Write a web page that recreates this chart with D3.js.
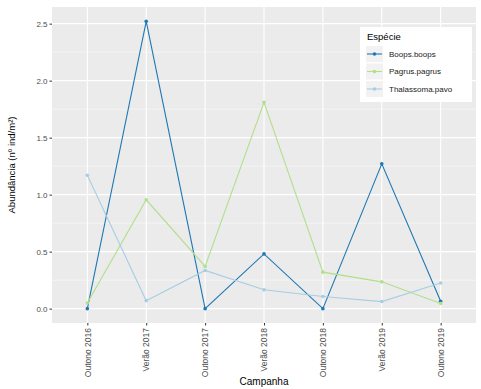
<!DOCTYPE html>
<html><head><meta charset="utf-8">
<script src="https://cdn.jsdelivr.net/npm/d3@7"></script>
<style>body{margin:0;background:#fff}svg{display:block;font-family:"Liberation Sans",Arial,sans-serif}</style>
</head><body><svg id="c" width="481" height="389"></svg>
<script>
const categories = ["Outono 2016","Verão 2017","Outono 2017","Verão 2018","Outono 2018","Verão 2019","Outono 2019"];
const boops = [0, 2.52, 0, 0.48, 0, 1.27, 0.065];
const pagrus = [0.05, 0.955, 0.37, 1.81, 0.32, 0.235, 0.045];
const thalassoma = [1.17, 0.07, 0.335, 0.165, 0.107, 0.062, 0.225];
const seriesNames = ["Boops.boops","Pagrus.pagrus","Thalassoma.pavo"];
const seriesColors = ["#1f78b4","#b2df8a","#a6cee3"];
const yTicks = [0, 0.5, 1.0, 1.5, 2.0, 2.5];

const series = [boops, pagrus, thalassoma].map((v,i)=>({name:seriesNames[i], color:seriesColors[i], values:v}));
const svg = d3.select("#c");
const L=52, R=476, T=7, B=323;
const x = d3.scalePoint().domain(categories).range([L,R]).padding(0.6);
const maxV = d3.max(series.flatMap(s=>s.values));
const pad = maxV*0.05;
const y = d3.scaleLinear().domain([-pad, maxV+pad]).range([B,T]);

svg.append("rect").attr("x",L).attr("y",T).attr("width",R-L).attr("height",B-T).attr("fill","#ebebeb");
for(let i=0;i<yTicks.length-1;i++){
  const m=(yTicks[i]+yTicks[i+1])/2;
  svg.append("line").attr("x1",L).attr("x2",R).attr("y1",y(m)).attr("y2",y(m)).attr("stroke","#fff").attr("stroke-width",0.5);
}
svg.selectAll(".gy").data(yTicks).enter().append("line").attr("x1",L).attr("x2",R)
  .attr("y1",d=>y(d)).attr("y2",d=>y(d)).attr("stroke","#fff").attr("stroke-width",1.1);
svg.selectAll(".gx").data(categories).enter().append("line").attr("y1",T).attr("y2",B)
  .attr("x1",d=>x(d)).attr("x2",d=>x(d)).attr("stroke","#fff").attr("stroke-width",1.1);

const ya = svg.append("g").attr("transform",`translate(${L},0)`)
  .call(d3.axisLeft(y).tickValues(yTicks).tickFormat(d3.format(".1f")).tickSize(2.5).tickPadding(2));
ya.select(".domain").remove();
ya.selectAll("line").attr("stroke","#333");
ya.selectAll("text").attr("fill","#4d4d4d").style("font-size","8px");
const xa = svg.append("g").attr("transform",`translate(0,${B})`)
  .call(d3.axisBottom(x).tickSize(2.5).tickPadding(2));
xa.select(".domain").remove();
xa.selectAll("line").attr("stroke","#333");
xa.selectAll("text").attr("fill","#4d4d4d").style("font-size","8.5px")
  .attr("text-anchor","end").attr("dy","0.32em").attr("transform","rotate(-90)")
  .attr("x",-5).attr("y",0);

const line = d3.line().x((d,i)=>x(categories[i])).y(d=>y(d));
series.forEach(s=>{
  svg.append("path").datum(s.values).attr("d",line).attr("fill","none").attr("stroke",s.color).attr("stroke-width",1.1);
  svg.selectAll(null).data(s.values).enter().append("circle")
    .attr("cx",(d,i)=>x(categories[i])).attr("cy",d=>y(d)).attr("r",1.8).attr("fill",s.color);
});

svg.append("text").attr("x",(L+R)/2).attr("y",385).attr("text-anchor","middle").style("font-size","10px").attr("fill","#000").text("Campanha");
svg.append("text").attr("transform",`translate(15,${(T+B)/2}) rotate(-90)`).attr("text-anchor","middle").style("font-size","9.5px").attr("fill","#000").text("Abundância (nº ind/m²)");

const lg = svg.append("g");
lg.append("rect").attr("x",360).attr("y",27).attr("width",112).attr("height",75).attr("fill","#fff");
lg.append("text").attr("x",367).attr("y",40).style("font-size","9.5px").text("Espécie");
series.forEach((s,i)=>{
  const yy=54+i*17.5;
  lg.append("rect").attr("x",366).attr("y",yy-8).attr("width",17).attr("height",16).attr("fill","#f2f2f2");
  lg.append("line").attr("x1",367).attr("x2",382).attr("y1",yy).attr("y2",yy).attr("stroke",s.color).attr("stroke-width",1.1);
  lg.append("circle").attr("cx",374.5).attr("cy",yy).attr("r",1.8).attr("fill",s.color);
  lg.append("text").attr("x",389).attr("y",yy).attr("dy","0.35em").style("font-size","8px").attr("fill","#1a1a1a").text(s.name);
});
</script></body></html>
